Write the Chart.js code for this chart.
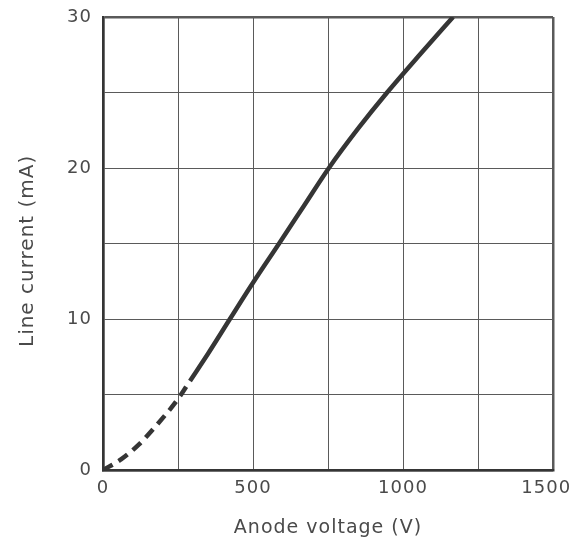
<!DOCTYPE html>
<html>
<head>
<meta charset="utf-8">
<script src="https://cdn.jsdelivr.net/npm/chart.js@4"></script>
<style>
  html, body { margin: 0; padding: 0; background: #fff; }
  #wrap { width: 575px; height: 543px; }
</style>
</head>
<body>
<div id="wrap"><canvas id="chart" width="575" height="543"></canvas></div>
<script>
// dashed low-voltage part of the curve (V, mA)
var dashedVolts = [0, 60, 120, 180, 250, 290];
var dashedCurrent = [0, 0.7, 1.7, 3.0, 4.7, 5.9];

// solid part
var solidVolts = [290, 350, 423, 500, 587, 670, 753, 850, 947, 1060, 1167];
var solidCurrent = [5.9, 7.7, 10, 12.4, 15, 17.5, 20, 22.6, 25, 27.6, 30];

var xTicks = [0, 500, 1000, 1500];
var yTicks = [0, 10, 20, 30];

var ink = '#353535';
var textInk = '#4a4a4a';
var fontFamily = 'DejaVu Sans';

function toPoints(xs, ys) {
    var pts = [];
    for (var i = 0; i < xs.length; i++) {
        pts.push({ x: xs[i], y: ys[i] });
    }
    return pts;
}

// outer lines of the grid are the heavy box
function gridWidth(ctx, max) {
    if (ctx.tick && (ctx.tick.value === 0 || ctx.tick.value === max)) return 2.5;
    return 1;
}

// the printed lettering is spaced out a little
const spacing = {
    id: 'spacing',
    beforeLayout: function (chart) { chart.ctx.letterSpacing = '1px'; },
    beforeDraw: function (chart) { chart.ctx.letterSpacing = '1px'; }
};

const ctx = document.getElementById('chart');
const chart = new Chart(ctx, {
    type: 'scatter',
    plugins: [spacing],
    data: {
        datasets: [{
            data: toPoints(dashedVolts, dashedCurrent),
            showLine: true,
            borderColor: ink,
            borderWidth: 4.5,
            borderDash: [11, 7],
            pointRadius: 0,
            cubicInterpolationMode: 'monotone'
        }, {
            data: toPoints(solidVolts, solidCurrent),
            showLine: true,
            borderColor: ink,
            borderWidth: 4.5,
            pointRadius: 0,
            cubicInterpolationMode: 'monotone'
        }]
    },
    options: {
        responsive: false,
        animation: false,
        layout: { padding: { left: 0, top: 17, right: 22, bottom: 0 } },
        plugins: { legend: { display: false }, tooltip: { enabled: false } },
        scales: {
            x: {
                type: 'linear',
                min: 0,
                max: 1500,
                afterBuildTicks: function (axis) {
                    var t = [];
                    for (var v = 0; v <= 1500; v += 250) t.push({ value: v });
                    axis.ticks = t;
                },
                afterFit: function (axis) {
                    axis.height = 73;
                    axis.paddingLeft = 0;
                    axis.paddingRight = 0;
                },
                grid: {
                    color: '#5a5a5a',
                    lineWidth: function (c) { return gridWidth(c, 1500); },
                    drawTicks: false
                },
                border: { color: ink, width: 2.5 },
                ticks: {
                    padding: 8,
                    color: textInk,
                    font: { family: fontFamily, size: 18 },
                    maxRotation: 0,
                    callback: function (v) {
                        if (xTicks.indexOf(v) < 0) return '';
                        // last label sits a bit inside the page edge
                        return v === 1500 ? v + '  ' : String(v);
                    }
                },
                title: {
                    display: true,
                    text: 'Anode voltage (V)',
                    color: textInk,
                    font: { family: fontFamily, size: 19 },
                    padding: { top: 10 }
                }
            },
            y: {
                type: 'linear',
                min: 0,
                max: 30,
                afterBuildTicks: function (axis) {
                    var t = [];
                    for (var v = 0; v <= 30; v += 5) t.push({ value: v });
                    axis.ticks = t;
                },
                afterFit: function (axis) {
                    axis.width = 103;
                    axis.paddingTop = 0;
                    axis.paddingBottom = 0;
                },
                grid: {
                    color: '#5a5a5a',
                    lineWidth: function (c) { return gridWidth(c, 30); },
                    drawTicks: false
                },
                border: { color: ink, width: 2.5 },
                ticks: {
                    padding: 11,
                    color: textInk,
                    font: { family: fontFamily, size: 18 },
                    callback: function (v) { return yTicks.indexOf(v) >= 0 ? String(v) : ''; }
                },
                title: {
                    display: true,
                    text: 'Line current (mA)  ',
                    color: textInk,
                    font: { family: fontFamily, size: 20 },
                    padding: { top: 16, bottom: 0 }
                }
            }
        }
    }
});
</script>
</body>
</html>
